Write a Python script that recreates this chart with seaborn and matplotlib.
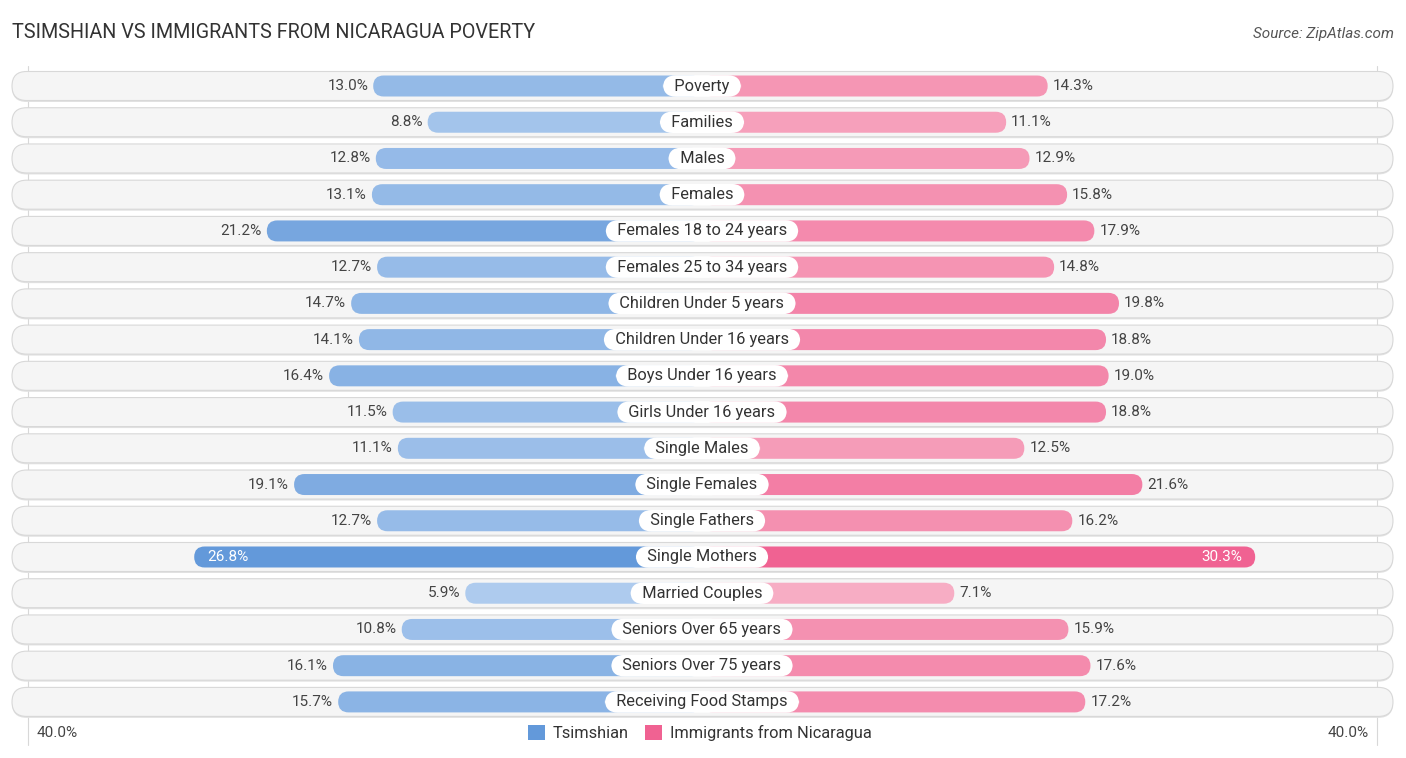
import numpy as np
import pandas as pd
import matplotlib
matplotlib.use("Agg")
import matplotlib.pyplot as plt
from matplotlib.patches import FancyBboxPatch, Patch
import seaborn as sns

# ---------------- data ----------------
categories = [
    "Poverty", "Families", "Males", "Females", "Females 18 to 24 years",
    "Females 25 to 34 years", "Children Under 5 years", "Children Under 16 years",
    "Boys Under 16 years", "Girls Under 16 years", "Single Males", "Single Females",
    "Single Fathers", "Single Mothers", "Married Couples", "Seniors Over 65 years",
    "Seniors Over 75 years", "Receiving Food Stamps",
]
tsimshian = [13.0, 8.8, 12.8, 13.1, 21.2, 12.7, 14.7, 14.1, 16.4, 11.5,
             11.1, 19.1, 12.7, 26.8, 5.9, 10.8, 16.1, 15.7]
nicaragua = [14.3, 11.1, 12.9, 15.8, 17.9, 14.8, 19.8, 18.8, 19.0, 18.8,
             12.5, 21.6, 16.2, 30.3, 7.1, 15.9, 17.6, 17.2]
series_names = ["Tsimshian", "Immigrants from Nicaragua"]
axis_label = "40.0%"
title = "TSIMSHIAN VS IMMIGRANTS FROM NICARAGUA POVERTY"
source = "Source: ZipAtlas.com"

# ---------------- layout constants (pixels -> data) ----------------
W, H = 1406, 758
CX = 702.0          # centre pixel
PX_PER_PCT = 12.97  # horizontal scale
OFFSET = 160.2 / PX_PER_PCT  # bars start behind the centre label
ROW0, ROW_STEP = 86.0, 36.23

def px2x(px):
    return (px - CX) / PX_PER_PCT

def py2row(py):
    return (py - ROW0) / ROW_STEP

BLUE_LIGHT = np.array([195, 217, 244]) / 255
BLUE_DARK = np.array([99, 153, 218]) / 255
PINK_LIGHT = np.array([249, 196, 211]) / 255
PINK_DARK = np.array([240, 98, 146]) / 255

def shade(vals, light, dark):
    vmax = max(vals)
    return [tuple(light + (dark - light) * (v / vmax)) for v in vals]

blue_cols = shade(tsimshian, BLUE_LIGHT, BLUE_DARK)
pink_cols = shade(nicaragua, PINK_LIGHT, PINK_DARK)

sns.set_theme(style="white")
plt.rcParams["font.family"] = ["Roboto", "DejaVu Sans"]

fig = plt.figure(figsize=(W / 100, H / 100), dpi=100)
ax = fig.add_axes([0, 0, 1, 1])

df_l = pd.DataFrame({"category": categories,
                     "length": [-(OFFSET + v) for v in tsimshian]})
df_r = pd.DataFrame({"category": categories,
                     "length": [OFFSET + v for v in nicaragua]})

BAR_H = 21 / ROW_STEP
sns.barplot(data=df_l, x="length", y="category", hue="category",
            palette=blue_cols, orient="h", width=BAR_H, dodge=False,
            legend=False, ax=ax, saturation=1)
sns.barplot(data=df_r, x="length", y="category", hue="category",
            palette=pink_cols, orient="h", width=BAR_H, dodge=False,
            legend=False, ax=ax, saturation=1)

ax.set_xlim(px2x(0), px2x(W))
ax.set_ylim(py2row(H), py2row(0))
ax.axis("off")

aspect = PX_PER_PCT / ROW_STEP  # data-y per data-x for equal pixel radius

# rounded bars replacing seaborn rectangles
for p in list(ax.patches):
    x0, w = p.get_x(), p.get_width()
    y0, h = p.get_y(), p.get_height()
    if w < 0:
        x0, w = x0 + w, -w
    fc = p.get_facecolor()
    p.remove()
    r = (h / 2) / aspect
    ax.add_patch(FancyBboxPatch((x0, y0), w, h,
                                boxstyle=f"round,pad=0,rounding_size={r}",
                                mutation_aspect=aspect, facecolor=fc,
                                edgecolor="none", zorder=3))

# row background pills
PILL_H = 29 / ROW_STEP
px_l, px_r = px2x(12), px2x(1393)
for i in range(len(categories)):
    r = (PILL_H / 2) / aspect
    ax.add_patch(FancyBboxPatch((px_l, i - PILL_H / 2 + 1.5 / ROW_STEP), px_r - px_l, PILL_H,
                                boxstyle=f"round,pad=0,rounding_size={r}",
                                mutation_aspect=aspect, facecolor="#e2e2e2",
                                edgecolor="none", zorder=0.8))
    ax.add_patch(FancyBboxPatch((px_l, i - PILL_H / 2), px_r - px_l, PILL_H,
                                boxstyle=f"round,pad=0,rounding_size={r}",
                                mutation_aspect=aspect, facecolor="#f5f5f5",
                                edgecolor="#d8d8d8", linewidth=0.8, zorder=1))

# faint vertical guide lines
for gx in (px2x(28), px2x(1377)):
    ax.plot([gx, gx], [py2row(66), py2row(745)], color="#d8d8d8", lw=0.8, zorder=0.5)

# labels
gap = 5 / PX_PER_PCT
inside = 13 / PX_PER_PCT
tmax, nmax = max(tsimshian), max(nicaragua)
VAL_FS = 11
for i, (cat, a, b) in enumerate(zip(categories, tsimshian, nicaragua)):
    ax.text(0, i, f"  {cat}  ", ha="center", va="center", fontsize=11.8,
            color="#333333", zorder=5,
            bbox=dict(boxstyle="round,pad=0.2,rounding_size=0.8", fc="white",
                      ec="none"))
    if a == tmax:
        ax.text(-(OFFSET + a) + inside, i, f"{a:.1f}%", ha="left", va="center",
                fontsize=VAL_FS, color="white", zorder=5)
    else:
        ax.text(-(OFFSET + a) - gap, i, f"{a:.1f}%", ha="right", va="center",
                fontsize=VAL_FS, color="#444444", zorder=5)
    if b == nmax:
        ax.text((OFFSET + b) - inside, i, f"{b:.1f}%", ha="right", va="center",
                fontsize=VAL_FS, color="white", zorder=5)
    else:
        ax.text((OFFSET + b) + gap, i, f"{b:.1f}%", ha="left", va="center",
                fontsize=VAL_FS, color="#444444", zorder=5)

# title and source
fig.text(12 / W, 1 - 33 / H, title, ha="left", va="center", fontsize=14.2,
         color="#333333")
fig.text(1394 / W, 1 - 34 / H, source, ha="right", va="center", fontsize=11,
         color="#555555", style="italic")

# axis end labels
fig.text(37 / W, 1 - 733 / H, axis_label, ha="left", va="center", fontsize=VAL_FS,
         color="#444444")
fig.text(1369 / W, 1 - 733 / H, axis_label, ha="right", va="center", fontsize=VAL_FS,
         color="#444444")

# legend
handles = [Patch(facecolor=tuple(BLUE_DARK), edgecolor="none", label=series_names[0]),
           Patch(facecolor=tuple(PINK_DARK), edgecolor="none", label=series_names[1])]
fig.legend(handles=handles, loc="center", bbox_to_anchor=(700 / W, 1 - 733 / H),
           ncol=2, frameon=False, fontsize=11.8, handlelength=1.0, handleheight=1.0,
           handletextpad=0.5, columnspacing=1.0, labelcolor="#333333")

fig.savefig("out.png", dpi=100)
